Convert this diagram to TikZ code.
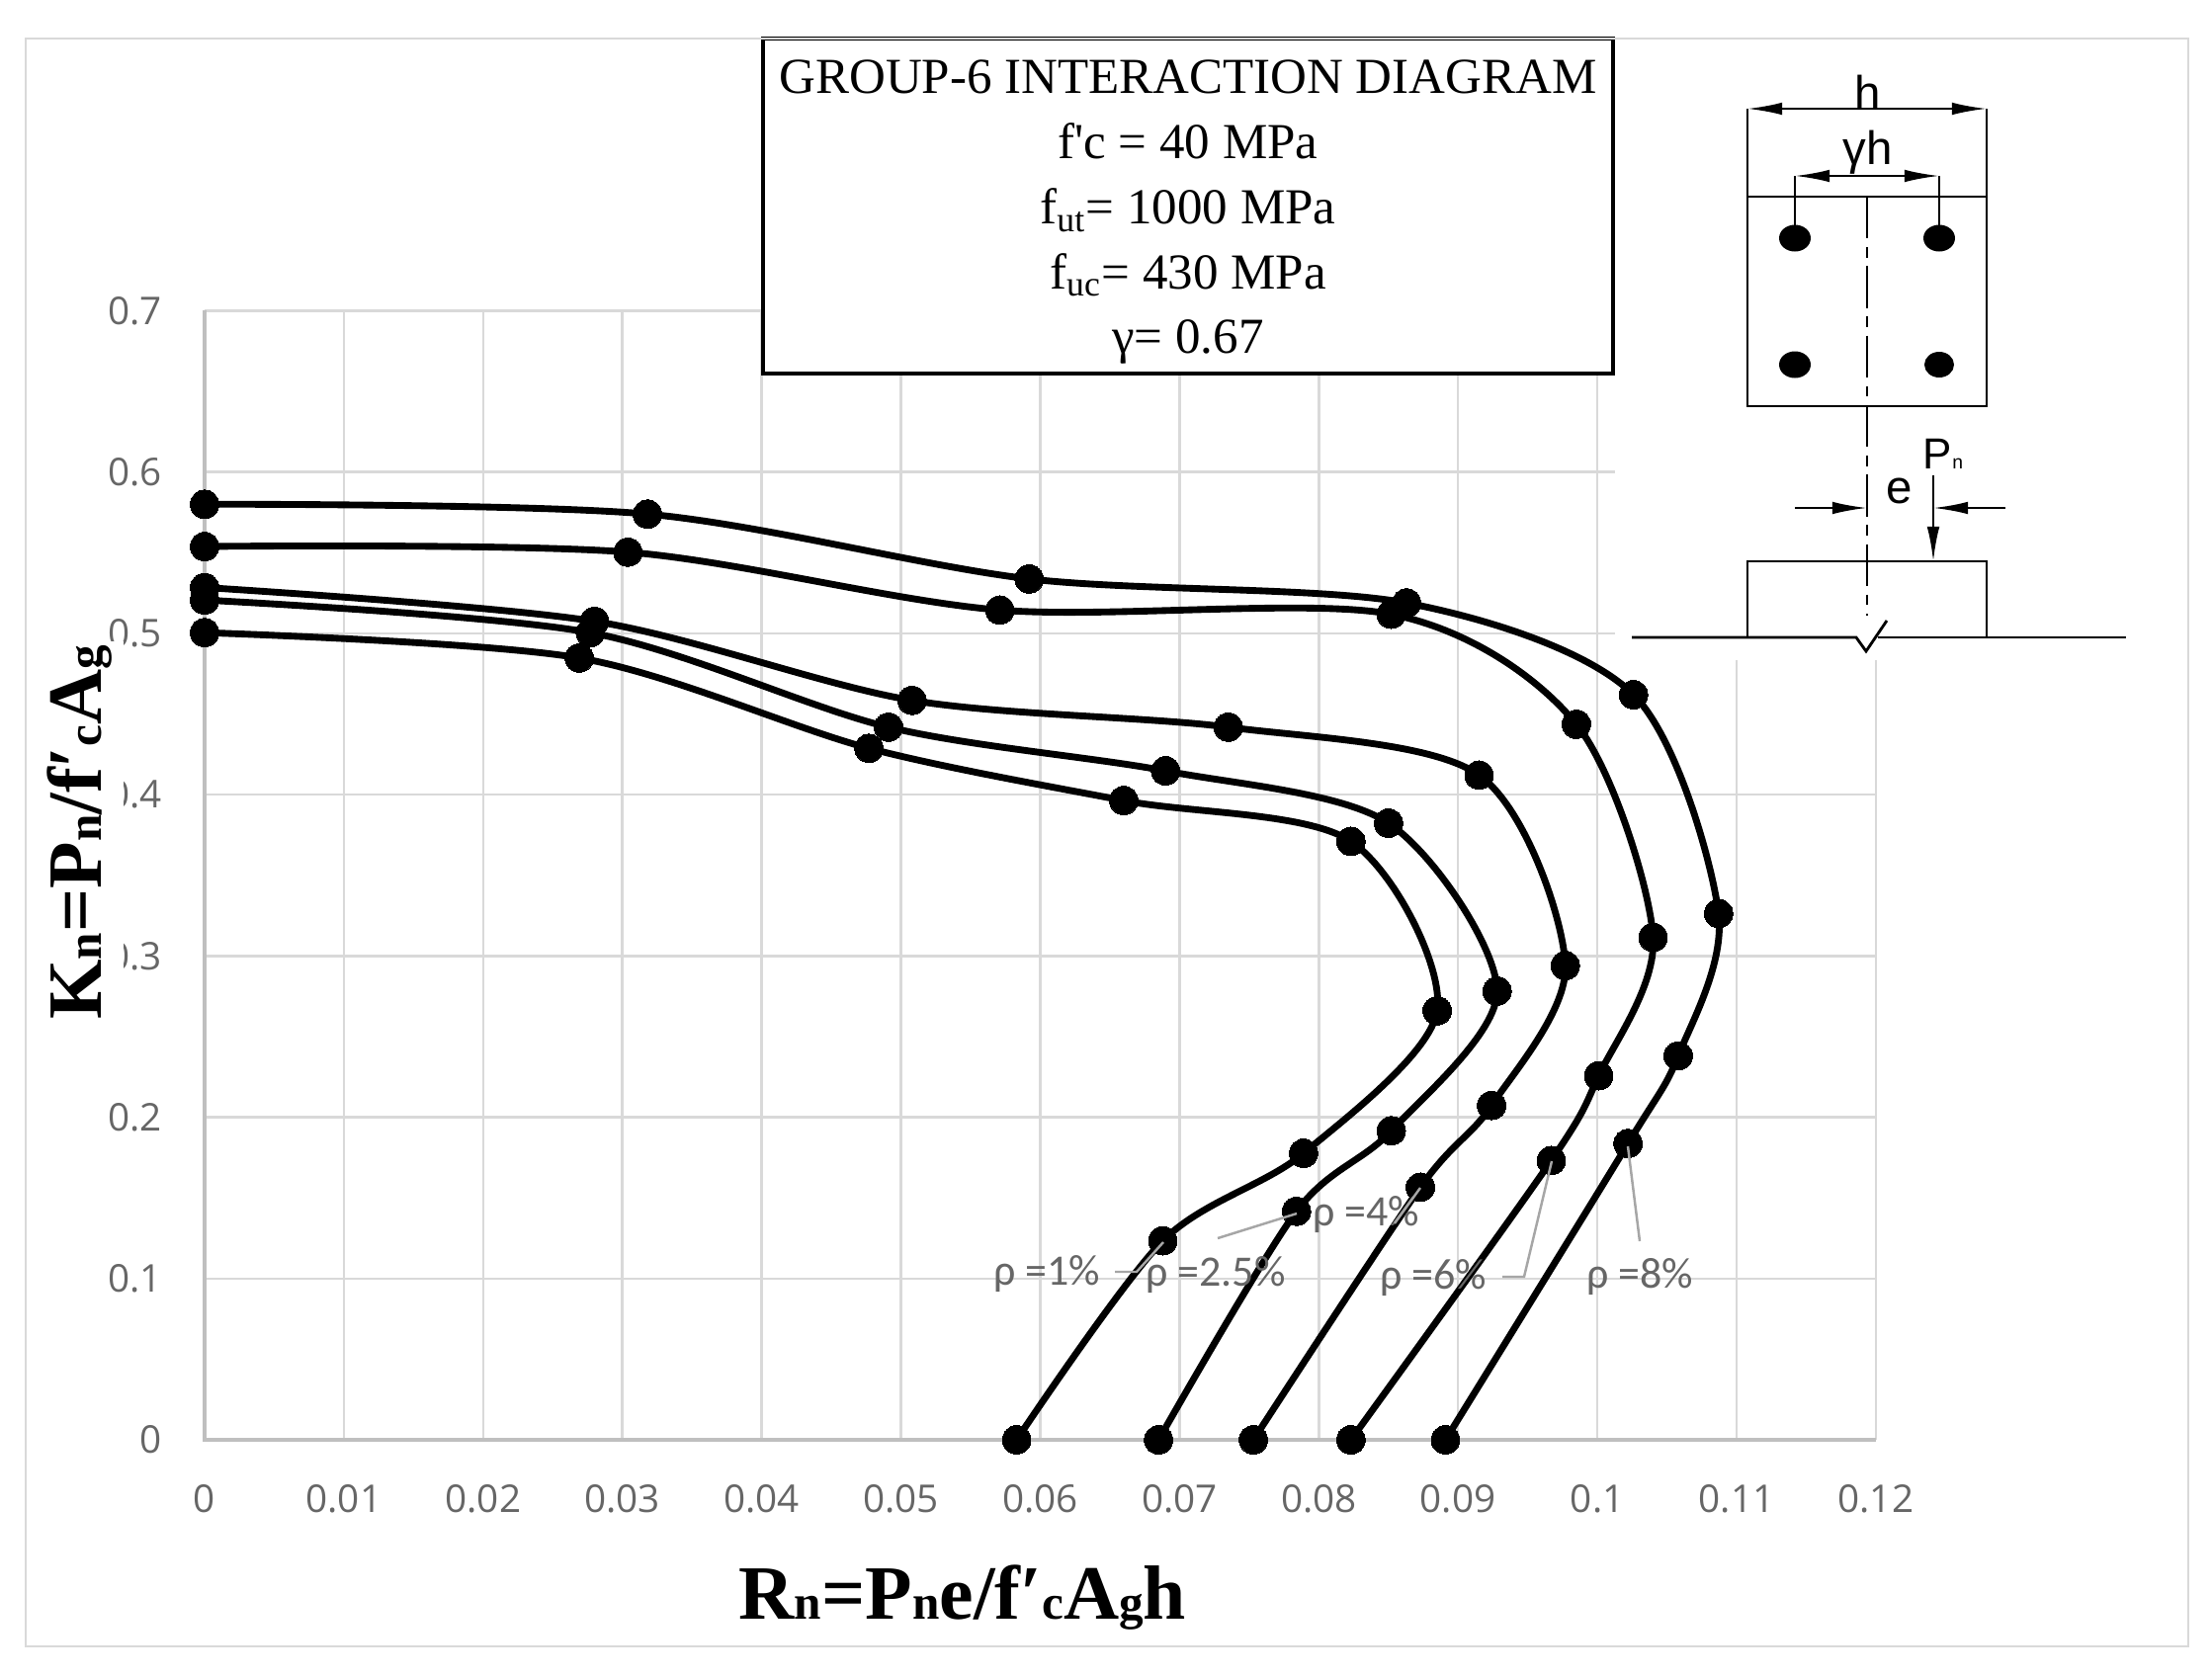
\documentclass[tikz,border=0pt]{standalone}
\usepackage{fontspec}
\setmainfont{Liberation Serif}
\newfontfamily\tickfont{Open Sans}
\newfontfamily\rhofont{Carlito}
\newfontfamily\insetfont{Liberation Sans}
\usepackage{tikz}
\usetikzlibrary{arrows.meta}
\definecolor{gridgray}{HTML}{D9D9D9}
\definecolor{axisgray}{HTML}{BFBFBF}
\definecolor{tickgray}{HTML}{666666}
\definecolor{leadgray}{HTML}{A6A6A6}
\newcommand{\lowsub}[2]{{\fontsize{#1}{#1}\selectfont #2}}
\tikzset{
	gridline/.style={draw=gridgray,line width=0.7pt},
	axisline/.style={draw=axisgray,line width=0.9pt},
	ticklabel/.style={font=\tickfont\fontsize{11}{12}\selectfont,text=tickgray,inner sep=0pt},
	curveline/.style={line width=1.95pt,mark=*,mark size=4.1pt,mark options={fill=black,line width=0pt}},
	leader/.style={draw=leadgray,line width=0.7pt},
	rholabel/.style={font=\rhofont\fontsize{12.5}{14}\selectfont,text=tickgray,inner sep=0pt},
	dimarrow/.style={line width=0.7pt,-{Latex[length=10pt,width=3.6pt]}},
	insetline/.style={line width=0.8pt},
	insettext/.style={font=\insetfont\fontsize{13.5}{14}\selectfont,inner sep=0pt},
	axistitle/.style={font=\bfseries\fontsize{22.1}{24}\selectfont,inner sep=0.4mm}
}
\begin{document}
\begin{tikzpicture}[x=0.01cm,y=-0.01cm]
	\useasboundingbox (0,0) rectangle (2238,1696);

	\begin{scope}[shift={(207,1457)},x=140.83cm,y=16.314cm]
		\foreach \v in {0.01,0.02,0.03,0.04,0.05,0.06,0.07,0.08,0.09,0.1,0.11,0.12}
			\draw[gridline] (\v,0) -- (\v,0.7);
		\foreach \v in {0.1,0.2,0.3,0.4,0.5,0.6,0.7}
			\draw[gridline] (0,\v) -- (0.12,\v);
		\draw[axisline] (0,0.7) -- (0,0) -- (0.12,0);

		\foreach \v [count=\n] in {0,0.01,0.02,0.03,0.04,0.05,0.06,0.07,0.08,0.09,0.1,0.11,0.12}
			\node[ticklabel] (xtick\n) at (\v,-0.0363) {\v};
		\foreach \v [count=\n] in {0,0.1,0.2,0.3,0.4,0.5,0.6,0.7}
			\node[ticklabel,anchor=east] (ytick\n) at (-0.0030,\v) {\v};
	\end{scope}

	\node[axistitle,rotate=90,anchor=base,fill=white,text depth=5.2pt] (ylabel) at (103,842)
		{K\lowsub{14}{n}=P\lowsub{14}{n}/f′\lowsub{14}{c}A\lowsub{14}{g}};
	\node[axistitle,anchor=base] (xlabel) at (974,1638)
		{R\lowsub{14}{n}=P\lowsub{14}{n}e/f′\lowsub{14}{c}A\lowsub{14}{g}h};

	\node[draw,line width=1.2pt,fill=white,minimum width=8.6cm,minimum height=3.39cm] (title) at (1202,208.5) {};
	\node[align=center,font=\fontsize{14.5}{18.7}\selectfont] (titletext) at (1202,215)
		{GROUP-6 INTERACTION DIAGRAM\\ f\textquotesingle c = 40 MPa\\ f\textsubscript{ut}= 1000 MPa\\ f\textsubscript{uc}= 430 MPa\\ γ= 0.67};

	% white patch behind the column sketch
	\fill[white] (1634,42) rectangle (2190,668);

	\begin{scope}[shift={(207,1457)},x=140.83cm,y=16.314cm]
		\draw[curveline] plot[smooth] coordinates {(0,0.5004) (0.0269,0.4847) (0.0477,0.4287) (0.0660,0.3963) (0.0823,0.3710) (0.0885,0.2660) (0.0789,0.1776) (0.0688,0.1234) (0.0583,0)};
		\draw[curveline] plot[smooth] coordinates {(0,0.5206) (0.0277,0.5004) (0.0491,0.4418) (0.0690,0.4147) (0.0850,0.3823) (0.0928,0.2782) (0.0852,0.1916) (0.0784,0.1417) (0.0685,0)};
		\draw[curveline] plot[smooth] coordinates {(0,0.5284) (0.0280,0.5074) (0.0508,0.4584) (0.0735,0.4418) (0.0915,0.4121) (0.0977,0.2940) (0.0924,0.2073) (0.0873,0.1566) (0.0753,0)};
		\draw[curveline] plot[smooth] coordinates {(0,0.5538) (0.0304,0.5503) (0.0571,0.5144) (0.0852,0.5118) (0.0985,0.4436) (0.1040,0.3115) (0.1001,0.2257) (0.0967,0.1732) (0.0823,0)};
		\draw[curveline] plot[smooth] coordinates {(0,0.5800) (0.0318,0.5739) (0.0592,0.5337) (0.0863,0.5188) (0.1026,0.4619) (0.1087,0.3263) (0.1058,0.2380) (0.1022,0.1837) (0.0891,0)};
	\end{scope}

	% labels of the curves
	\node[rholabel] (rho1) at (1059,1289) {ρ =1\%};
	\node[rholabel] (rho2) at (1230,1290) {ρ =2.5\%};
	\node[rholabel] (rho4) at (1382,1229) {ρ =4\%};
	\node[rholabel] (rho6) at (1450,1293) {ρ =6\%};
	\node[rholabel] (rho8) at (1659,1292) {ρ =8\%};
	\coordinate (lead1) at (1177,1257);
	\coordinate (lead2) at (1312,1228);
	\coordinate (lead4) at (1437,1202);
	\coordinate (lead6) at (1570,1175);
	\coordinate (lead8) at (1647,1160);
	\draw[leader] (1128,1287) -- (1150,1287) -- (lead1);
	\draw[leader] (1232,1253) -- (lead2);
	\draw[leader] (1411,1238) -- (lead4);
	\draw[leader] (1520,1292) -- (1542,1292) -- (lead6);
	\draw[leader] (1659,1256) -- (lead8);

	% column section
	\draw[insetline] (1768,110) -- (1768,411) -- (2010,411) -- (2010,110);
	\draw[insetline] (1768,199) -- (2010,199);
	\draw[dimarrow] (1890,110) -- (1768,110);
	\draw[dimarrow] (1890,110) -- (2010,110);
	\draw[insetline] (1816,241) -- (1816,178);
	\draw[insetline] (1962,241) -- (1962,178);
	\draw[dimarrow] (1890,178) -- (1816,178);
	\draw[dimarrow] (1890,178) -- (1962,178);
	\fill (1816,241) ellipse [x radius=16,y radius=13.5];
	\fill (1962,241) ellipse [x radius=16,y radius=13.5];
	\fill (1816,369) ellipse [x radius=16,y radius=13.5];
	\fill (1962,369) ellipse [x radius=15,y radius=13];
	\node[insettext] (hlabel) at (1890,93) {h};
	\node[insettext] (gammah) at (1890,154) {γh};

	% footing and load
	\draw[insetline,dash pattern=on 12pt off 2.5pt on 3pt off 2.5pt] (1889,199) -- (1889,623);
	\draw[insetline] (1768,645) -- (1768,568) -- (2010,568) -- (2010,645);
	\draw[insetline] (1651,645) -- (1878,645) -- (1888,659) -- (1909,628);
	\draw[insetline] (1900,645) -- (2151,645);
	\draw[dimarrow] (1956,481) -- (1956,568);
	\draw[dimarrow] (1816,514) -- (1889,514);
	\draw[dimarrow] (2029,514) -- (1956,514);
	\node[insettext] (elabel) at (1922,497) {e};
	\node[insettext,font=\insetfont\fontsize{12.5}{14}\selectfont] (pnlabel) at (1966,459) {P\lowsub{5.5}{n}};

	\draw[draw=gridgray,line width=0.8pt] (26,39) rectangle (2214,1666);
\end{tikzpicture}
\end{document}
